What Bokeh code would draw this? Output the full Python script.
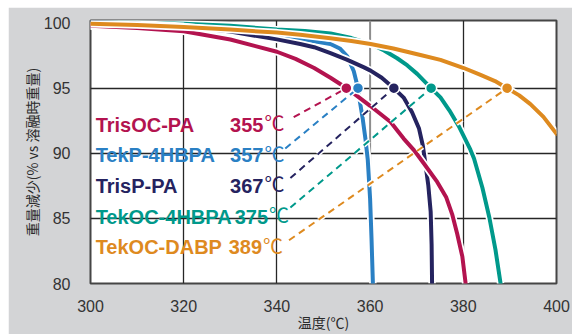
from bokeh.plotting import figure
from bokeh.models import FixedTicker, Span, Range1d
from bokeh.embed import file_html
from bokeh.resources import INLINE
from bokeh.core.properties import value

# ---------------- data ----------------
series_names = ["TrisOC-PA", "TekP-4HBPA", "TrisP-PA", "TekOC-4HBPA", "TekOC-DABP"]
onset_labels = [355, 357, 367, 375, 389]          # temperature (°C) at 95 % weight
marker_temp = [354.9, 357.4, 365.1, 373.1, 389.4]  # marker position on the 95 % line
marker_weight = [95, 95, 95, 95, 95]

trisoc_pa_t = [300, 310, 320, 330, 340, 344, 348, 351.5, 355, 360, 364.4, 367.2, 369.4,
               371.5, 374.4, 376.3, 377.6, 378.7, 379.8, 380.5]
trisoc_pa_w = [99.8, 99.62, 99.37, 98.74, 97.8, 97.25, 96.55, 95.8, 95.0, 93.65, 92.4, 91.13,
               90.25, 89.24, 87.8, 86.65, 85.33, 83.8, 82.06, 80.0]

tekp_4hbpa_t = [300, 310, 320, 330, 340, 345, 349, 351.5, 353.5, 355.1, 356.5, 357.4, 357.8,
                358.4, 359.0, 359.5, 360.0, 360.3, 360.6]
tekp_4hbpa_w = [99.75, 99.65, 99.5, 99.3, 99.0, 98.8, 98.55, 98.4, 98.05, 97.45, 96.3, 95.0,
                94.0, 92.7, 91.1, 89.5, 86.5, 83.5, 80.0]

trisp_pa_t = [300, 310, 320, 330, 340, 345, 348, 351.5, 355, 358.7, 360.1, 362.5, 365.1,
              367.2, 369.0, 370.5, 371.3, 371.9, 372.5, 373.0, 373.2, 373.3]
trisp_pa_w = [100.1, 99.95, 99.75, 99.35, 98.75, 98.4, 98.15, 97.7, 97.2, 96.6, 96.35, 95.8,
              95.0, 94.28, 93.15, 91.9, 90.62, 89.11, 87.5, 85.5, 83.0, 80.0]

tekoc_4hbpa_t = [300, 310, 320, 330, 340, 346, 351.5, 356, 360.1, 363, 365.8, 368, 370.1,
                 373.1, 375.1, 377.0, 379.0, 381.5, 382.3, 384.1, 385.6, 386.9, 388.0]
tekoc_4hbpa_w = [100.1, 100.05, 99.95, 99.8, 99.5, 99.4, 99.2, 98.85, 98.4, 97.9, 97.3, 96.75,
                 96.1, 95.0, 94.3, 93.3, 92.1, 90.3, 89.6, 87.35, 85.05, 82.6, 80.0]

tekoc_dabp_t = [300, 310, 320, 330, 340, 345, 351.5, 356, 360.1, 365, 370.8, 375.1, 380.1,
                383.7, 386.8, 389.4, 392, 394.4, 397.2, 400]
tekoc_dabp_w = [99.95, 99.85, 99.7, 99.5, 99.27, 99.1, 98.84, 98.62, 98.39, 98.05, 97.55,
                97.18, 96.55, 96.02, 95.55, 95.0, 94.45, 93.78, 92.8, 91.5]

x_ticks = [300, 320, 340, 360, 380, 400]
y_ticks = [80, 85, 90, 95, 100]

# ---------------- styling ----------------
colors = ["#b3134f", "#2a80c4", "#25235f", "#00998b", "#de8a1f"]
curves = [(trisoc_pa_t, trisoc_pa_w), (tekp_4hbpa_t, tekp_4hbpa_w), (trisp_pa_t, trisp_pa_w),
          (tekoc_4hbpa_t, tekoc_4hbpa_w), (tekoc_dabp_t, tekoc_dabp_w)]
draw_order = [3, 1, 2, 0, 4]

# label layout (data coordinates of the annotation block)
name_x = 301.1
temp_x = [341.4, 341.4, 341.4, 342.4, 341.1]
label_y = [92.2, 89.85, 87.52, 85.13, 82.79]
leader_x = [343.6, 341.8, 342.9, 342.9, 342.6]
leader_y = [92.77, 90.37, 88.1, 85.84, 83.32]

p = figure(width=564, height=327,
           x_range=Range1d(300, 400), y_range=Range1d(80, 100.2),
           output_backend="svg", toolbar_location=None,
           min_border_left=82, min_border_right=16, min_border_top=13, min_border_bottom=47,
           background_fill_color="white", border_fill_color="#d3d4d6")
p.margin = (7, 0, 0, 8)
p.outline_line_color = "#454545"
p.outline_line_width = 2

for ax in (p.xaxis, p.yaxis):
    ax.axis_line_color = None
    ax.major_tick_line_color = None
    ax.minor_tick_line_color = None
    ax.major_label_text_font = "Liberation Sans"
    ax.major_label_text_font_size = "16px"
    ax.major_label_text_color = "#333333"
    ax.axis_label_text_font = "Noto Sans CJK JP"
    ax.axis_label_text_font_size = "14px"
    ax.axis_label_text_font_style = "normal"
    ax.axis_label_text_color = "#2a2a2a"

p.xaxis.ticker = FixedTicker(ticks=x_ticks)
p.yaxis.ticker = FixedTicker(ticks=y_ticks)
p.xaxis.major_label_standoff = 10
p.yaxis.major_label_standoff = 14
p.xaxis.axis_label = "温度(℃)"
p.yaxis.axis_label = "重量減少(% vs 溶融時重量)"
p.xaxis.axis_label_standoff = -3
p.yaxis.axis_label_standoff = -1

p.xgrid.ticker = FixedTicker(ticks=[320, 340, 380])
p.xgrid.grid_line_color = "#262626"
p.xgrid.grid_line_width = 1.3
p.ygrid.ticker = FixedTicker(ticks=[85, 90, 95])
p.ygrid.grid_line_color = "#262626"
p.ygrid.grid_line_width = 1.7
p.add_layout(Span(location=360, dimension="height", line_color="#8d8d8d",
                  line_width=2, level="underlay"))

# curves with white halo
for i in draw_order:
    t, w = curves[i]
    p.line(t, w, line_color="white", line_width=7.5, line_join="round")
    p.line(t, w, line_color=colors[i], line_width=4, line_join="round", line_cap="round")

# dashed leaders
for i in range(5):
    xs = [leader_x[i], marker_temp[i]]
    ys = [leader_y[i], marker_weight[i]]
    p.line(xs, ys, line_color="white", line_width=5, line_dash="7 5")
    p.line(xs, ys, line_color=colors[i], line_width=2, line_dash="7 5")

p.scatter(marker_temp, marker_weight, size=11, fill_color=colors,
          line_color="white", line_width=1.5)

p.text(x=[name_x] * 5, y=label_y, text=series_names, text_color=colors,
       text_font=value("Liberation Sans"), text_font_style="bold",
       text_font_size="20px", text_align="left", text_baseline="alphabetic")
p.text(x=temp_x, y=label_y, text=[str(t) for t in onset_labels], text_color=colors,
       text_font=value("Liberation Sans"), text_font_style="bold",
       text_font_size="20px", text_align="right", text_baseline="alphabetic",
       x_offset=-20)
p.text(x=temp_x, y=label_y, text=["℃"] * 5, text_color=colors,
       text_font=value("Noto Sans CJK JP"), text_font_style="normal",
       text_font_size="20px", text_align="right", text_baseline="alphabetic",
       x_offset=1, y_offset=-2)

open("out.html", "w").write(file_html(p, INLINE))
